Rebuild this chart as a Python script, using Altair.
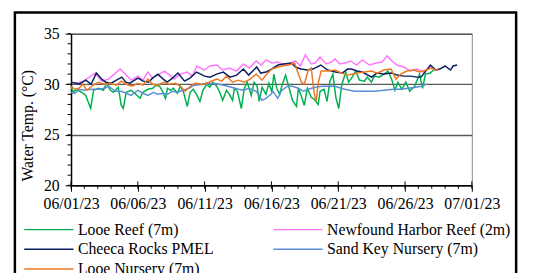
import altair as alt
import pandas as pd

START = "2023-06-01"

series_names = ["Looe Reef (7m)", "Newfound Harbor Reef (2m)", "Cheeca Rocks PMEL",
                "Sand Key Nursery (7m)", "Looe Nursery (7m)"]
series_colors = ["#00B050", "#FF77FF", "#0B1F5E", "#5A8FD8", "#EE7722"]

# (day offset from 06/01/23, water temperature in C)
looe_reef = [(0.00,29.8),(0.15,29.2),(0.29,29.4),(0.52,29.4),(0.81,29.2),(1.11,28.9),(1.18,28.6),
    (1.47,27.6),(1.69,29.4),(2.06,29.6),(2.43,29.4),(2.65,30.1),(2.95,29.4),(3.17,29.2),(3.54,29.7),
    (3.76,27.9),(3.91,27.6),(4.13,29.2),(4.50,29.4),(4.86,29.0),(5.16,28.6),(5.38,29.2),(5.75,29.5),
    (6.12,29.6),(6.34,29.9),(6.63,29.8),(6.85,29.3),(7.07,28.6),(7.22,29.6),(7.44,29.4),(7.66,29.6),
    (7.96,29.1),(8.18,29.8),(8.40,29.3),(8.70,27.8),(8.92,29.2),(9.14,29.5),(9.43,28.9),(9.65,28.3),
    (9.87,29.4),(10.17,30.0),(10.39,29.7),(10.61,30.2),(10.91,29.8),(11.13,29.2),(11.35,28.4),
    (11.64,29.4),(11.86,29.0),(12.09,28.4),(12.23,29.6),(12.45,29.3),(12.75,27.6),(12.97,29.6),
    (13.19,30.2),(13.49,28.9),(13.71,30.2),(13.93,29.8),(14.08,28.3),(14.30,29.7),(14.59,29.0),
    (14.81,30.1),(15.03,29.2),(15.18,31.0),(15.40,29.6),(15.62,29.0),(15.77,29.8),(16.06,30.9),
    (16.29,29.8),(16.58,28.4),(16.88,27.8),(17.02,29.6),(17.24,28.8),(17.46,27.9),(17.69,29.6),
    (17.98,28.7),(18.20,28.5),(18.50,28.0),(18.64,29.3),(18.94,29.5),(19.16,28.3),(19.38,30.3),
    (19.60,31.0),(19.82,28.7),(20.04,27.6),(20.26,29.9),(20.56,31.2),(20.78,30.2),(21.00,30.6),
    (21.30,31.3),(21.59,30.4),(21.96,30.3),(22.18,30.7),(22.48,30.2),(22.70,30.8),(23.07,30.7),
    (23.43,31.0),(23.73,31.3),(24.02,30.4),(24.24,29.4),(24.47,30.2),(24.76,29.5),(25.06,30.2),
    (25.35,29.3),(25.72,29.8),(26.09,31.0),(26.31,29.6),(26.53,31.0),(26.90,31.1),(27.19,31.5)]

newfound = [(0.37,30.1),(0.96,30.3),(1.47,30.8),(1.84,31.1),(2.28,30.3),(2.80,30.5),(3.24,31.0),
    (3.68,31.5),(4.13,30.9),(4.50,30.4),(5.01,30.8),(5.38,30.4),(5.75,31.2),(6.12,30.6),(6.48,30.9),
    (7.00,31.3),(7.37,30.9),(7.74,30.5),(8.18,31.0),(8.70,31.2),(9.07,30.8),(9.43,31.8),(9.95,31.4),
    (10.39,31.8),(10.91,31.9),(11.35,31.4),(11.86,31.6),(12.38,31.3),(12.90,32.0),(13.34,31.6),
    (13.86,32.3),(14.22,31.9),(14.59,32.4),(15.03,32.1),(15.47,32.2),(15.92,31.9),(16.29,32.0),
    (16.80,32.3),(17.17,31.8),(17.54,32.9),(17.98,32.0),(18.28,32.1),(18.64,32.7),(19.09,32.0),
    (19.53,32.2),(19.75,32.5),(20.12,32.0),(20.49,32.1),(20.93,32.3),(21.37,31.9),(21.81,32.4),
    (22.33,31.9),(22.84,32.1),(23.29,32.2),(23.65,32.8),(24.02,32.3),(24.39,31.9),(24.91,31.7),
    (25.42,31.3),(25.87,31.5),(26.38,31.2),(26.90,31.8),(27.27,31.4)]

cheeca = [(0.0,30.2),(0.4,30.1),(0.6,30.0),(1.1,30.4),(1.5,30.0),(1.9,31.1),(2.3,30.5),(2.6,30.2),
    (3.0,30.1),(3.4,30.4),(3.8,30.7),(4.1,30.2),(4.4,30.1),(5.0,30.6),(5.4,30.3),(5.8,30.2),(6.1,30.6),
    (6.5,31.0),(6.9,30.5),(7.2,30.2),(7.6,30.6),(8.0,31.1),(8.5,30.3),(8.9,30.6),(9.4,31.2),(10.0,30.8),
    (10.4,30.7),(10.9,31.0),(11.4,31.2),(11.9,30.7),(12.4,30.9),(12.9,31.5),(13.3,30.9),(13.9,31.7),
    (14.2,31.1),(14.6,31.2),(15.0,31.5),(15.5,31.9),(15.9,32.0),(16.5,32.1),(16.8,31.7),(17.2,31.5),
    (17.7,31.4),(18.1,31.5),(18.7,31.9),(19.2,31.4),(19.8,31.2),(20.3,31.1),(20.7,31.5),(21.0,31.5),
    (21.4,31.3),(21.8,31.2),(22.5,30.7),(22.9,31.1),(23.4,31.0),(24.0,31.1),(24.4,30.9),(24.9,30.8),
    (25.4,30.8),(25.9,30.7),(26.2,30.7),(26.5,31.2),(26.9,31.9),(27.3,31.4),(27.6,31.5),(28.0,31.8),
    (28.4,31.4),(28.6,31.8),(28.9,31.9)]

sand_key = [(0.00,29.2),(0.29,29.1),(0.59,29.5),(1.03,29.4),(1.55,29.5),(2.06,29.5),(2.51,29.6),
    (2.80,29.8),(3.32,29.3),(3.76,29.3),(4.13,29.1),(4.50,28.9),(5.01,29.4),(5.38,29.1),(5.75,28.9),
    (6.19,29.2),(6.48,29.0),(6.93,29.1),(7.22,29.0),(7.59,29.3),(7.96,29.2),(8.40,29.4),(8.84,29.6),
    (9.21,29.9),(9.95,30.0),(10.69,30.1),(11.42,29.9),(12.01,29.7),(12.53,29.5),(12.90,29.4),
    (13.34,29.6),(13.86,29.3),(14.08,28.9),(14.30,28.4),(14.59,28.6),(14.96,29.0),(15.11,29.3),
    (15.47,28.6),(15.77,29.4),(16.21,29.8),(16.58,29.8),(17.02,29.6),(17.39,29.3),(17.76,29.5),
    (18.28,29.7),(18.79,29.8),(19.16,29.8),(19.75,29.8),(20.49,29.5),(21.22,29.3),(21.96,29.3),
    (22.70,29.3),(23.43,29.4),(24.17,29.5),(24.69,29.5),(25.28,29.6),(25.79,29.7),(26.23,29.8),
    (26.60,30.0)]

looe_nursery = [(0.00,29.8),(0.29,29.5),(0.59,29.6),(0.88,30.0),(1.18,29.4),(1.47,29.7),(1.77,30.0),
    (2.06,30.2),(2.51,30.0),(2.95,30.1),(3.39,29.9),(3.76,30.3),(4.13,30.0),(4.57,29.8),(5.01,30.1),
    (5.38,29.9),(5.75,30.5),(6.12,30.0),(6.48,29.9),(6.93,30.2),(7.37,30.0),(7.81,30.1),(8.18,29.8),
    (8.55,29.3),(8.92,29.8),(9.29,30.1),(9.80,30.0),(10.32,30.2),(10.91,30.5),(11.27,30.3),
    (11.64,30.8),(12.09,30.2),(12.53,30.4),(12.97,30.2),(13.41,30.5),(13.86,31.0),(14.30,30.4),
    (14.59,30.9),(15.03,31.5),(15.77,31.8),(16.29,31.9),(16.73,32.1),(17.02,31.0),(17.24,30.2),
    (17.46,30.0),(17.76,31.4),(17.98,31.6),(18.20,29.1),(18.35,28.3),(18.50,30.1),(18.72,31.3),
    (19.23,31.3),(19.75,31.4),(20.26,31.1),(20.71,30.9),(21.08,31.0),(21.44,31.1),(21.96,31.2),
    (22.48,31.3),(22.92,31.1),(23.43,31.4),(23.95,31.5),(24.32,30.5),(24.69,31.0),(25.13,31.3),
    (25.65,31.4),(26.09,31.2),(26.60,31.4),(26.97,31.6),(27.27,31.4),(27.49,31.4)]

y_major = [20, 25, 30, 35]
y_minor = list(range(20, 36))
x_major_days = [0, 5, 10, 15, 20, 25, 30]
x_minor_days = list(range(0, 31))

FONT = "Liberation Serif"
t0 = pd.Timestamp(START)
FMT = "%Y-%m-%dT%H:%M:%S"

frames = []
for name, pts in zip(series_names, [looe_reef, newfound, cheeca, sand_key, looe_nursery]):
    d = pd.DataFrame(pts, columns=["day", "temp"])
    d["series"] = name
    frames.append(d)
df = pd.concat(frames, ignore_index=True)
df["t"] = (t0 + pd.to_timedelta(df["day"], unit="D")).dt.strftime(FMT)

minor_x = pd.DataFrame({"t": [(t0 + pd.Timedelta(days=d)).strftime(FMT) for d in x_minor_days]})
major_x = pd.DataFrame({"t": [(t0 + pd.Timedelta(days=d)).strftime(FMT) for d in x_major_days]})
minor_y = pd.DataFrame({"v": y_minor})

x_vals = [alt.DateTime(year=2023, month=6 if d < 30 else 7, date=(1 + d) if d < 30 else 1)
          for d in x_major_days]

def xenc():
    return alt.X("t:T",
                 scale=alt.Scale(domain=[alt.DateTime(year=2023, month=6, date=1),
                                         alt.DateTime(year=2023, month=7, date=1)]),
                 axis=alt.Axis(values=x_vals, format="%m/%d/%y", title=None, grid=False,
                               tickSize=6, labelPadding=5, labelFlush=False,
                               labelOverlap=False, labelBound=False,
                               labelFont=FONT, labelFontSize=16, labelColor="black",
                               domainColor="black", domainWidth=1.5, tickColor="black"))

def yenc(field):
    return alt.Y(field,
                 scale=alt.Scale(domain=[20, 35], nice=False, zero=False),
                 axis=alt.Axis(values=y_major, title="Water Temp. (\u00b0C)", grid=True,
                               gridColor="#5a5a5a", gridWidth=1.5, tickSize=6,
                               labelPadding=6, titleX=-36, titleY=93,
                               labelFont=FONT, labelFontSize=16, labelColor="black",
                               titleFont=FONT, titleFontSize=16, titleColor="black",
                               titleFontWeight="normal",
                               domainColor="black", domainWidth=1.5, tickColor="black"))

color = alt.Color("series:N",
                  scale=alt.Scale(domain=series_names, range=series_colors),
                  legend=alt.Legend(title=None, orient="none", legendX=-30.5, legendY=191,
                                    direction="horizontal", columns=2,
                                    symbolType="M-5,0H5", symbolSize=100,
                                    symbolStrokeWidth=1.5, labelFont=FONT, labelFontSize=16,
                                    labelColor="black", labelOffset=21.5, columnPadding=57,
                                    rowPadding=4, padding=0, labelLimit=400))

frame = alt.Chart(alt.Data(values=[{"a": 1}])).mark_rect(
    fillOpacity=0, stroke="black", strokeWidth=2.5
).encode(x=alt.value(-57), x2=alt.value(452), y=alt.value(-21.5), y2=alt.value(260))

line_layers = []
for name in series_names:
    line_layers.append(
        alt.Chart(df).transform_filter(alt.datum.series == name)
        .mark_line(strokeWidth=1.5)
        .encode(x=xenc(), y=yenc("temp:Q"), color=color)
    )

xminor = alt.Chart(minor_x).mark_rule(color="black", strokeWidth=1).encode(
    x=xenc(), y=alt.value(154), y2=alt.value(157.5))
xmajor_in = alt.Chart(major_x).mark_rule(color="black", strokeWidth=1).encode(
    x=xenc(), y=alt.value(150), y2=alt.value(154))
yminor = alt.Chart(minor_y).mark_rule(color="black", strokeWidth=1).encode(
    y=yenc("v:Q"), x=alt.value(-3.5), x2=alt.value(0))

chart = alt.layer(frame, *line_layers, xminor, xmajor_in, yminor).properties(
    width=407, height=154,
    autosize=alt.AutoSizeParams(type="none"),
    padding={"left": 64, "top": 24, "right": 54, "bottom": 87},
    view=alt.ViewBackground(stroke="#888888", strokeWidth=1),
)

chart.save("out.html", embed_options={"renderer": "svg", "actions": False})
